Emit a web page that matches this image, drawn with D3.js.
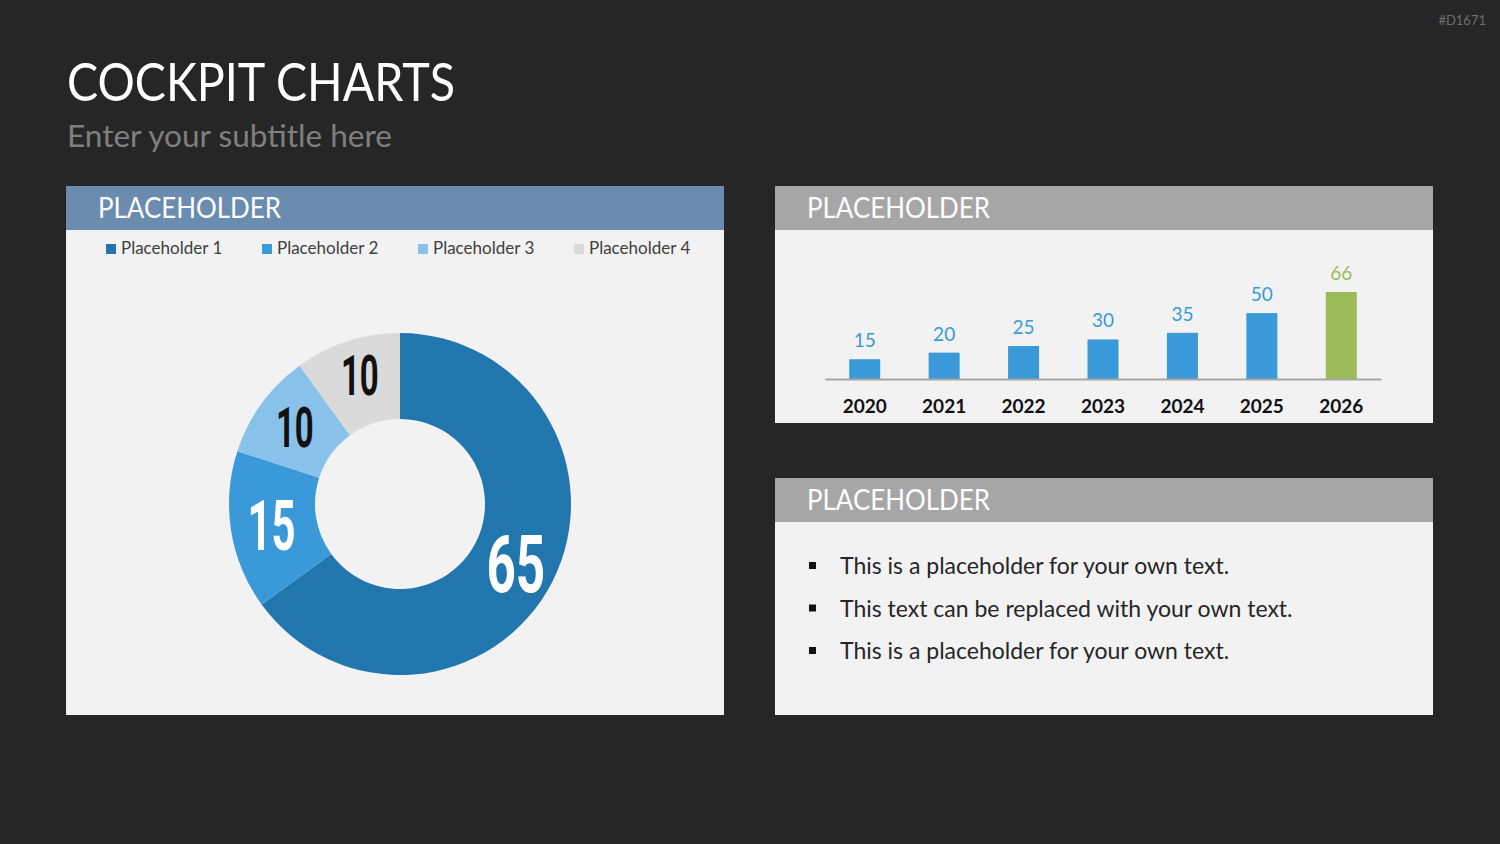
<!DOCTYPE html>
<html>
<head>
<meta charset="utf-8">
<script src="https://cdn.jsdelivr.net/npm/d3@7"></script>
<style>
  html, body { margin: 0; padding: 0; background: #262626; }
  svg { display: block; }
  text { font-family: Lato, "Open Sans", sans-serif; }
</style>
</head>
<body>
<div id="chart"></div>
<script>
// donut data
const donutLabels = ["Placeholder 1", "Placeholder 2", "Placeholder 3", "Placeholder 4"]
const donutValues = [65, 15, 10, 10]
const donutColors = ["#2176ae", "#3a9ad9", "#88c2ea", "#dadada"]

// bar data
const years = ["2020", "2021", "2022", "2023", "2024", "2025", "2026"]
const barValues = [15, 20, 25, 30, 35, 50, 66]

const bullets = [
  "This is a placeholder for your own text.",
  "This text can be replaced with your own text.",
  "This is a placeholder for your own text."
]

const width = 1500
const height = 844
const svg = d3.select("#chart").append("svg")
  .attr("width", width)
  .attr("height", height)

svg.append("rect").attr("width", width).attr("height", height).attr("fill", "#262626")

svg.append("text")
  .attr("x", 1486).attr("y", 25)
  .attr("text-anchor", "end")
  .style("font-size", "13px")
  .style("fill", "#6e6e6e")
  .text("#D1671")

svg.append("text")
  .attr("x", 67).attr("y", 101)
  .attr("textLength", 388)
  .attr("lengthAdjust", "spacingAndGlyphs")
  .style("font-size", "52px")
  .style("fill", "#ffffff")
  .text("COCKPIT CHARTS")

svg.append("text")
  .attr("x", 67).attr("y", 147)
  .attr("textLength", 325)
  .attr("lengthAdjust", "spacingAndGlyphs")
  .style("font-size", "31px")
  .style("fill", "#7f7f7f")
  .text("Enter your subtitle here")

// panels
function panel(x, y, w, h, headColor) {
  const g = svg.append("g").attr("transform", `translate(${x},${y})`)
  g.append("rect").attr("width", w).attr("height", h).attr("fill", "#f2f2f2")
  g.append("rect").attr("width", w).attr("height", 44).attr("fill", headColor)
  g.append("text")
    .attr("x", 32).attr("y", 32)
    .attr("textLength", 183)
    .attr("lengthAdjust", "spacingAndGlyphs")
    .style("font-size", "28px")
    .style("fill", "#ffffff")
    .text("PLACEHOLDER")
  return g
}

const left = panel(66, 186, 658, 529, "#6a8caf")
const topRight = panel(775, 186, 658, 237, "#a6a6a6")
const botRight = panel(775, 478, 658, 237, "#a6a6a6")

// legend
const legend = left.selectAll("g.legend")
  .data(donutLabels)
  .enter()
  .append("g")
  .attr("class", "legend")
  .attr("transform", (d, i) => `translate(${40 + i * 156},58)`)

legend.append("rect")
  .attr("width", 10).attr("height", 10)
  .attr("fill", (d, i) => donutColors[i])

legend.append("text")
  .attr("x", 15).attr("y", 10)
  .style("font-size", "17px")
  .style("fill", "#404040")
  .text(d => d)

// donut
const pie = d3.pie().sort(null).value(d => d)
const arc = d3.arc().innerRadius(85).outerRadius(171)
const donut = left.append("g").attr("transform", "translate(334,318)")

const slices = donut.selectAll("g")
  .data(pie(donutValues))
  .enter()
  .append("g")

slices.append("path")
  .attr("d", arc)
  .attr("fill", (d, i) => donutColors[i])

const labelArc = d3.arc().innerRadius(130).outerRadius(130)
const labelSize = [80, 70, 55, 55]
const labelShiftY = [0, 0, 0, -5]
slices.append("text")
  .attr("transform", (d, i) => {
    const c = labelArc.centroid(d)
    return `translate(${c[0]},${c[1] + labelShiftY[i]}) scale(${i === 0 ? 0.64 : 0.6},1)`
  })
  .attr("text-anchor", "middle")
  .attr("dy", "0.36em")
  .style("font-family", "Roboto, sans-serif")
  .style("font-weight", "bold")
  .style("font-size", (d, i) => labelSize[i] + "px")
  .style("fill", (d, i) => i < 2 ? "#ffffff" : "#111111")
  .text(d => d.data)

// bar chart
const x = d3.scaleBand()
  .domain(years)
  .range([50, 606])
  .paddingInner(0.61)
  .paddingOuter(0.305)

const y = d3.scaleLinear()
  .domain([0, 66])
  .range([193, 106])

const bars = topRight.append("g")

bars.selectAll("rect")
  .data(barValues)
  .enter()
  .append("rect")
  .attr("x", (d, i) => x(years[i]))
  .attr("y", d => y(d))
  .attr("width", x.bandwidth())
  .attr("height", d => y(0) - y(d))
  .attr("fill", (d, i) => i === years.length - 1 ? "#9bbb59" : "#3a9ad9")

bars.selectAll("text.val")
  .data(barValues)
  .enter()
  .append("text")
  .attr("class", "val")
  .attr("x", (d, i) => x(years[i]) + x.bandwidth() / 2)
  .attr("y", d => y(d) - 12)
  .attr("text-anchor", "middle")
  .style("font-size", "19px")
  .style("fill", (d, i) => i === years.length - 1 ? "#9bbb59" : "#3a9ad9")
  .text(d => d)

const xAxis = topRight.append("g")
  .attr("transform", `translate(0,${y(0)})`)
  .call(d3.axisBottom(x).tickSize(0).tickPadding(21))

xAxis.select(".domain").attr("stroke", "#a6a6a6").attr("stroke-width", 2)
xAxis.selectAll("text")
  .style("font-family", "Lato, sans-serif")
  .style("font-size", "19px")
  .style("font-weight", "bold")
  .style("fill", "#111111")

// bullets
const items = botRight.selectAll("g.bullet")
  .data(bullets)
  .enter()
  .append("g")
  .attr("class", "bullet")
  .attr("transform", (d, i) => `translate(0,${88 + i * 42.5})`)

items.append("rect")
  .attr("x", 34).attr("y", -4)
  .attr("width", 7).attr("height", 7)
  .attr("fill", "#111111")

items.append("text")
  .attr("x", 65).attr("y", 8)
  .style("font-size", "23px")
  .style("fill", "#262626")
  .text(d => d)
</script>
</body>
</html>
